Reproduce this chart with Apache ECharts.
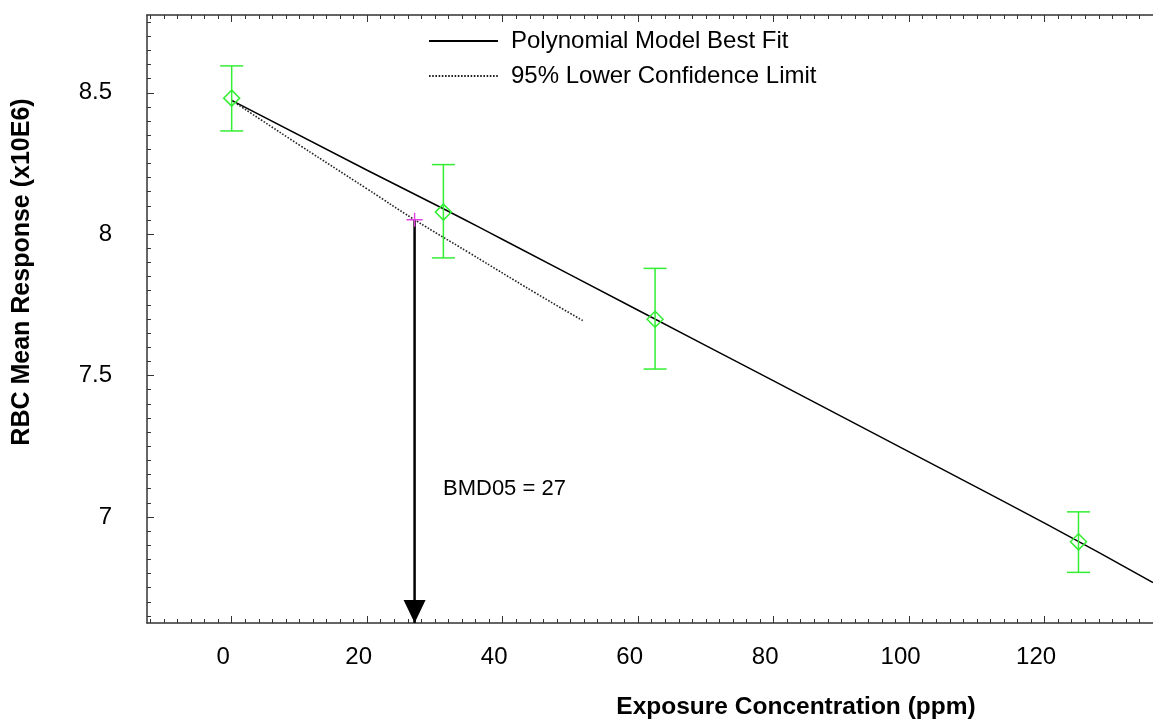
<!DOCTYPE html>
<html>
<head>
<meta charset="utf-8">
<script src="https://cdn.jsdelivr.net/npm/echarts@6/dist/echarts.min.js"></script>
<style>
  html, body { margin: 0; padding: 0; background: #fff; }
  #main { width: 1153px; height: 719px; }
</style>
</head>
<body>
<div id="main"></div>
<script>
// dose groups (ppm) with observed mean and error bar ends
var doses = [0, 31.25, 62.5, 125]
var means = [8.481, 8.078, 7.699, 6.912]
var lowers = [8.365, 7.916, 7.523, 6.804]
var uppers = [8.595, 8.246, 7.879, 7.018]

// polynomial model best fit
var fitX = [0, 20, 31.25, 40, 60, 80, 100, 120, 136]
var fitY = [8.473, 8.226, 8.09, 7.981, 7.731, 7.481, 7.23, 6.978, 6.768]

// 95% lower confidence limit curve
var bmdlX = [0, 10, 20, 27, 35, 45, 52]
var bmdlY = [8.473, 8.315, 8.16, 8.051, 7.935, 7.79, 7.692]

// benchmark dose point
var bmd = 27
var bmdY = 8.051

var xMin = -12.5, xMax = 136
var yMin = 6.625, yMax = 8.775
var xLabels = [0, 20, 40, 60, 80, 100, 120]
var yLabels = [7, 7.5, 8, 8.5]

var xMinor = []
for (var i = -12; i <= 136; i += 2) xMinor.push(i)
var yMinor = []
for (var j = 133; j <= 175; j++) yMinor.push(Math.round(j * 5) / 100)

var font = "'Liberation Sans', Arial, sans-serif"
var green = '#33ee33'
var axisCol = '#333'

function pairs(xs, ys) {
  return xs.map(function (x, k) { return [x, ys[k]] })
}

function xAx(pos, ticks, len, showLine, showLabel) {
  return {
    type: 'value', position: pos, min: xMin, max: xMax,
    splitLine: { show: false },
    axisLine: { show: showLine, onZero: false, lineStyle: { color: axisCol, width: 1.5 } },
    axisTick: { show: true, inside: true, length: len, customValues: ticks, lineStyle: { color: axisCol, width: 1 } },
    axisLabel: {
      show: showLabel, customValues: xLabels, margin: 22, fontSize: 24,
      fontFamily: font, color: '#000', padding: [0, 17, 0, 0]
    }
  }
}

function yAx(ticks, len, showLine, showLabel) {
  return {
    type: 'value', position: 'left', min: yMin, max: yMax,
    splitLine: { show: false },
    axisLine: { show: showLine, onZero: false, lineStyle: { color: axisCol, width: 1.5 } },
    axisTick: { show: true, inside: true, length: len, customValues: ticks, lineStyle: { color: axisCol, width: 1 } },
    axisLabel: {
      show: showLabel, customValues: yLabels, margin: 35, fontSize: 24,
      fontFamily: font, color: '#000'
    }
  }
}

var myChart = echarts.init(document.getElementById('main'))

var option = {
  animation: false,
  backgroundColor: '#fff',
  grid: { left: 147, top: 15, right: 0, bottom: 96 },
  legend: {
    data: ['Polynomial Model Best Fit', '95% Lower Confidence Limit'],
    orient: 'vertical',
    left: 428,
    top: 29,
    padding: 0,
    itemWidth: 69,
    itemHeight: 14,
    itemGap: 11,
    itemStyle: { opacity: 0 },
    textStyle: { fontSize: 24, fontFamily: font, color: '#000', padding: [0, 0, 0, 8] }
  },
  xAxis: [
    xAx('bottom', xMinor, 4, true, true),
    xAx('bottom', xLabels, 7, false, false),
    xAx('top', xMinor, 4, true, false),
    xAx('top', xLabels, 7, false, false)
  ],
  yAxis: [
    yAx(yMinor, 4, true, true),
    yAx(yLabels, 7, false, false)
  ],
  graphic: [
    {
      type: 'text', x: 796, y: 707,
      style: {
        text: 'Exposure Concentration (ppm)', font: 'bold 24.5px ' + font,
        fill: '#000', textAlign: 'center', textVerticalAlign: 'middle'
      }
    },
    {
      type: 'text', x: 22, y: 272, rotation: Math.PI / 2,
      style: {
        text: 'RBC Mean Response (x10E6)', font: 'bold 25px ' + font,
        fill: '#000', textAlign: 'center', textVerticalAlign: 'middle'
      }
    },
    {
      type: 'text', x: 443, y: 489,
      style: {
        text: 'BMD05 = 27', font: '22px ' + font,
        fill: '#000', textAlign: 'left', textVerticalAlign: 'middle'
      }
    }
  ],
  series: [
    {
      name: 'Polynomial Model Best Fit',
      type: 'line',
      data: pairs(fitX, fitY),
      smooth: true,
      symbol: 'none',
      lineStyle: { color: '#000', width: 1.5 },
      z: 3
    },
    {
      name: '95% Lower Confidence Limit',
      type: 'line',
      data: pairs(bmdlX, bmdlY),
      smooth: true,
      symbol: 'none',
      lineStyle: { color: '#222', width: 1.6, type: [1.6, 1.6] },
      z: 3
    },
    {
      name: 'errors',
      type: 'custom',
      data: doses.map(function (d, k) { return [d, lowers[k], uppers[k]] }),
      renderItem: function (params, api) {
        var lo = api.coord([api.value(0), api.value(1)])
        var hi = api.coord([api.value(0), api.value(2)])
        var hw = 11.5
        var st = { stroke: green, lineWidth: 1.5 }
        return {
          type: 'group',
          children: [
            { type: 'line', shape: { x1: lo[0], y1: lo[1], x2: hi[0], y2: hi[1] }, style: st },
            { type: 'line', shape: { x1: lo[0] - hw, y1: lo[1], x2: lo[0] + hw, y2: lo[1] }, style: st },
            { type: 'line', shape: { x1: hi[0] - hw, y1: hi[1], x2: hi[0] + hw, y2: hi[1] }, style: st }
          ]
        }
      },
      z: 4
    },
    {
      name: 'means',
      type: 'scatter',
      data: pairs(doses, means),
      symbol: 'diamond',
      symbolSize: [16, 16],
      itemStyle: { color: 'transparent', borderColor: green, borderWidth: 1.5, opacity: 1 },
      z: 5
    },
    {
      name: 'bmd line',
      type: 'line',
      data: [[bmd, bmdY], [bmd, yMin]],
      symbol: 'none',
      lineStyle: { color: '#000', width: 2.5 },
      z: 6
    },
    {
      name: 'bmd arrow',
      type: 'scatter',
      data: [[bmd, yMin]],
      symbol: 'path://M0,0L22,0L11,23Z',
      symbolSize: [22, 23],
      symbolOffset: [0, -11.5],
      clip: false,
      itemStyle: { color: '#000', opacity: 1 },
      z: 6
    },
    {
      name: 'bmd point',
      type: 'scatter',
      data: [[bmd, bmdY]],
      symbol: 'path://M0,6.3L16,6.3L16,7.7L0,7.7Z M7.3,0L8.7,0L8.7,14L7.3,14Z',
      symbolSize: [16, 14],
      clip: false,
      itemStyle: { color: '#e040e0', opacity: 1 },
      z: 7
    }
  ]
}
myChart.setOption(option)
</script>
</body>
</html>
